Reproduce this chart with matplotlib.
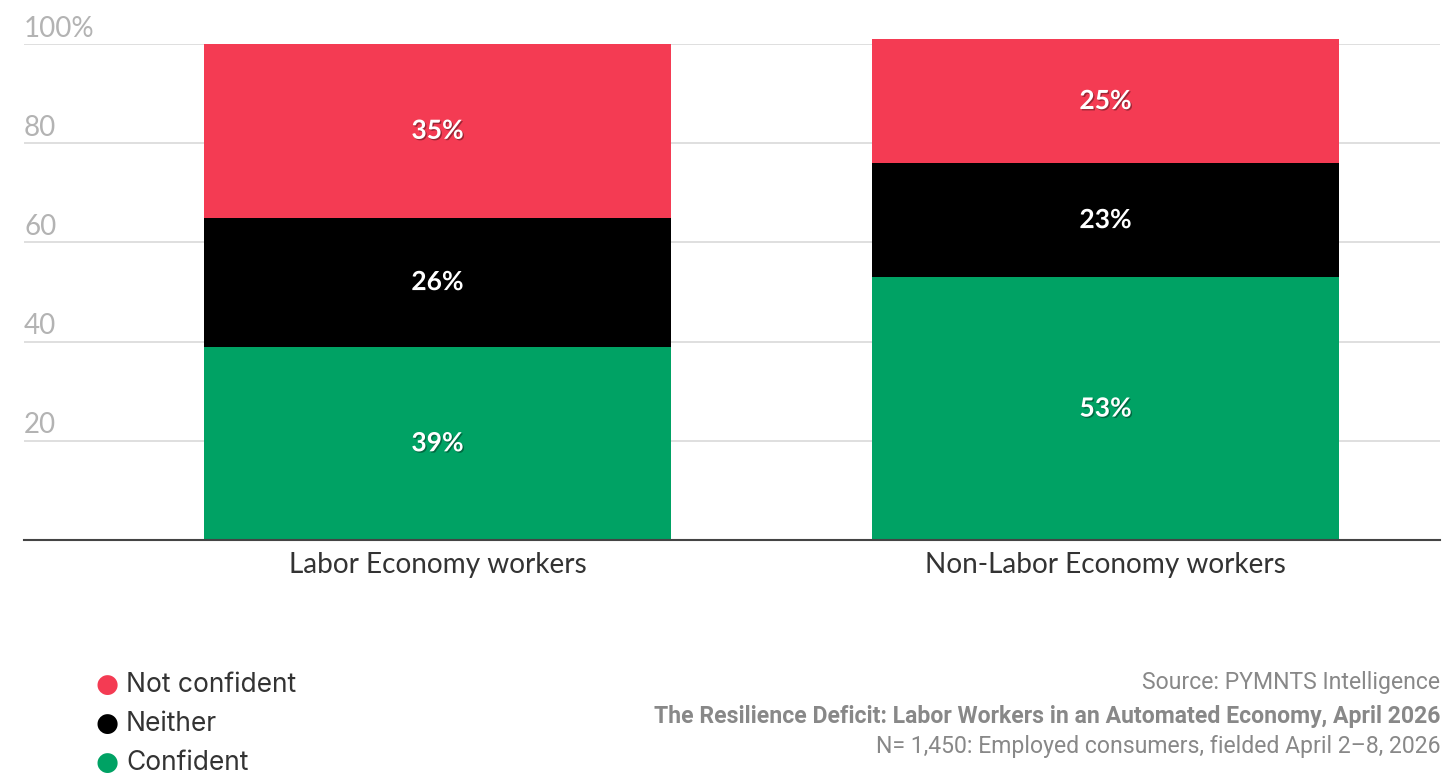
import matplotlib
matplotlib.use("Agg")
import matplotlib.pyplot as plt
import matplotlib.patheffects as pe
import numpy as np

categories = ["Labor Economy workers", "Non-Labor Economy workers"]
series_names = ["Confident", "Neither", "Not confident"]
confident = [39, 53]
neither = [26, 23]
not_confident = [35, 25]
colors = ["#00a264", "#000000", "#f43b53"]
yticks = [20, 40, 60, 80, 100]
ytick_labels = ["20", "40", "60", "80", "100%"]
source_lines = ["Source: PYMNTS Intelligence",
                "The Resilience Deficit: Labor Workers in an Automated Economy, April 2026",
                "N= 1,450: Employed consumers, fielded April 2\u20138, 2026"]

W, H = 1447, 774
fig = plt.figure(figsize=(W / 100, H / 100), dpi=100)
ax = fig.add_axes([24 / W, 1 - 540 / H, (1440 - 24) / W, (540 - 44) / H])

x = np.arange(len(categories))
series = [confident, neither, not_confident]
bottom = np.zeros(len(categories))
for vals, col in zip(series, colors):
    vals = np.array(vals, dtype=float)
    ax.bar(x, vals, width=0.7, bottom=bottom, color=col, zorder=3, linewidth=0, clip_on=False)
    for xi, v, b in zip(x, vals, bottom):
        ax.text(xi, b + v / 2, f"{int(v)}%", ha="center", va="center",
                color="white", fontsize=19, fontfamily="Lato", fontweight="bold",
                zorder=5,
                path_effects=[pe.SimplePatchShadow(offset=(1, -1), shadow_rgbFace="black", alpha=0.35),
                              pe.Normal()])
    bottom += vals

ax.set_xlim(-0.619, 1.5007)
ax.set_ylim(0, 100)
for s in ["top", "right", "left"]:
    ax.spines[s].set_visible(False)
ax.spines["bottom"].set_color("#444444")
ax.spines["bottom"].set_linewidth(1.5)
ax.spines["bottom"].set_zorder(6)

for yt, lab in zip(yticks, ytick_labels):
    ax.axhline(yt, color="#d9d9d9", linewidth=1.2, zorder=1)
    ax.text(-0.619, yt + 0.5, lab, ha="left", va="bottom", color="#b3b3b3",
            fontsize=20, fontfamily="Lato")
ax.set_yticks([])
ax.set_xticks(x)
ax.set_xticklabels(categories, fontsize=20.2, fontfamily="Lato", color="#333333")
ax.tick_params(axis="x", length=0, pad=9)

# Legend
leg_y = [685, 724, 763]
leg_names = ["Not confident", "Neither", "Confident"]
leg_cols = [colors[2], colors[1], colors[0]]
for yy, nm, c in zip(leg_y, leg_names, leg_cols):
    fig.text(107 / W, 1 - yy / H, "\u25CF", color=c, fontsize=19, ha="center", va="center",
             fontfamily="DejaVu Sans")
    fig.text(126 / W, 1 - yy / H, nm, color="#333333", fontsize=19, ha="left", va="center",
             fontfamily="Inter")

src_y = [683, 716, 747]
weights = ["normal", "bold", "normal"]
for yy, t, w in zip(src_y, source_lines, weights):
    fig.text(1440 / W, 1 - yy / H, t, color="#888888", fontsize=16.6, ha="right", va="center",
             fontfamily="Roboto", fontweight=w)

fig.savefig("out.png", dpi=100)
